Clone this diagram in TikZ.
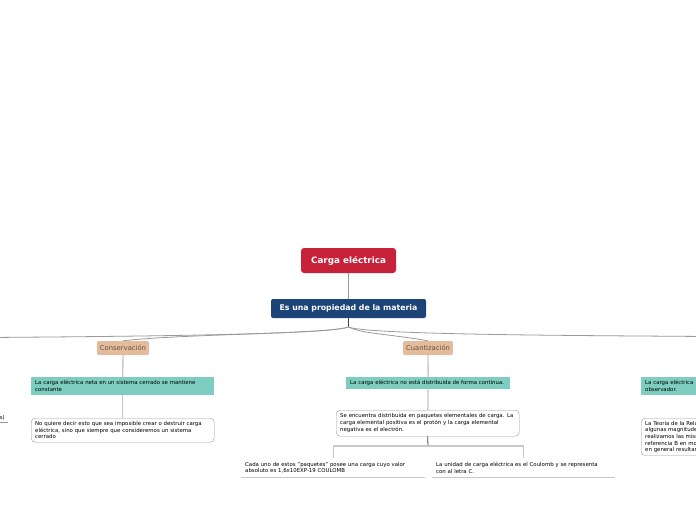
\documentclass[tikz,border=0pt]{standalone}
\usepackage{fontspec}
\setmainfont{DejaVu Sans}
\usepackage{xcolor}
\usepackage{tikz}

\definecolor{rootred}{HTML}{C8213A}
\definecolor{mainblue}{HTML}{1D4477}
\definecolor{topictan}{HTML}{E2BC9C}
\definecolor{topictext}{HTML}{6B4E3A}
\definecolor{factteal}{HTML}{7DCDC0}
\definecolor{linegray}{HTML}{9A9A9A}
\definecolor{stemgray}{HTML}{C8C8C8}

\begin{document}
\begin{tikzpicture}[x=1pt,y=-1pt,
  tiny/.style={font=\fontsize{5.4}{6.7}\selectfont},
  rootbox/.style={fill=rootred,rounded corners=3pt,text=white,
    font=\bfseries\fontsize{8.8}{10}\selectfont,minimum width=95pt,minimum height=25pt},
  mainbox/.style={fill=mainblue,rounded corners=2pt,text=white,
    font=\bfseries\fontsize{7.8}{9}\selectfont,minimum width=155pt,minimum height=19pt},
  topicbox/.style={fill=topictan,rounded corners=1.5pt,text=topictext,
    font=\fontsize{6.8}{8}\selectfont,minimum height=14pt,inner xsep=3pt},
  factbox/.style={tiny,fill=factteal,anchor=north west,align=left,inner xsep=4pt,inner ysep=2pt},
  notebox/.style={tiny,draw=linegray,fill=white,rounded corners=4pt,anchor=north west,
    align=left,inner xsep=4pt,inner ysep=2.5pt},
  leafbox/.style={tiny,anchor=north west,align=left,inner xsep=4pt,inner ysep=2pt},
  conn/.style={linegray,line width=0.8pt},
  trunk/.style={black!75,line width=0.8pt},
  stem/.style={stemgray,line width=1.3pt}]
  \useasboundingbox (0,0) rectangle (696,520);
  \clip (0,0) rectangle (696,520);

  % --- centre
  \node[rootbox] (root) at (348.5,260.5) {Carga eléctrica};
  \node[mainbox] (prop) at (348.5,308.5) {Es una propiedad de la materia};
  \coordinate (hub) at (348.5,327);
  \coordinate (leftend) at (-10,337.5);
  \coordinate (rightend) at (706,336.5);
  \draw[conn] (root) -- (prop);
  \draw[trunk] (prop) -- (hub);

  % --- left: conservation
  \node[topicbox] (cons) at (123,348) {Conservación};
  \node[factbox,text width=175pt,minimum height=18pt] (consfact) at (31,377)
    {La carga eléctrica neta en un sistema cerrado se mantiene\\constante};
  \node[notebox,text width=175pt,minimum height=24pt] (consnote) at (31,418)
    {No quiere decir esto que sea imposible crear o destruir carga\\eléctrica, sino que siempre que consideremos un sistema\\cerrado};
  \node[tiny,anchor=south east,inner xsep=3pt,inner ysep=2pt] (farleft) at (8,422) {s)};
  \coordinate (farleftend) at (-170,422);

  % --- middle: quantization
  \node[topicbox] (cuan) at (428,348) {Cuantización};
  \node[factbox,text width=156pt,minimum height=12pt] (cuanfact) at (346,377)
    {La carga eléctrica no está distribuida de forma continua.};
  \node[notebox,text width=175pt,minimum height=26pt] (cuannote) at (336,410)
    {Se encuentra distribuida en paquetes elementales de carga. La\\carga elemental positiva es el protón y la carga elemental\\negativa es el electrón.};
  \coordinate (split) at (428,446);
  \node[leafbox,text width=176pt,minimum height=19pt] (paquete) at (241,458)
    {Cada uno de estos "paquetes" posee una carga cuyo valor\\absoluto es 1,6x10EXP-19 COULOMB};
  \node[leafbox,text width=175pt,minimum height=19pt] (unidad) at (432,458)
    {La unidad de carga eléctrica es el Coulomb y se representa\\con al letra C.};

  % --- right: invariance (cut by the frame)
  \node[factbox,text width=175pt,minimum height=18pt] (invfact) at (641,377)
    {La carga eléctrica\\observador.};
  \node[notebox,text width=175pt,minimum height=37pt] (invnote) at (641,418)
    {La Teoría de la Relatividad\\algunas magnitudes\\realizamos las mismas\\referencia B en movimiento\\en general resultan};

  % --- connectors
  \draw[conn] (hub) .. controls +(-20,8) and +(120,-1) .. (leftend);
  \draw[conn] (hub) .. controls +(-20,7) and +(60,-7) .. (cons.north);
  \draw[conn] (hub) .. controls +(15,7) and +(-40,-7) .. (cuan.north);
  \draw[conn] (hub) .. controls +(20,8) and +(-120,-1) .. (rightend);
  \draw[stem] (cons) -- (consfact);
  \draw[stem] (consfact) -- (consnote);
  \draw[stem] (cuan) -- (cuanfact);
  \draw[stem] (cuanfact) -- (cuannote);
  \draw[stem] (invfact) -- (invnote);
  \draw[trunk] (cuannote.south) -- (split);
  \draw[stem] (split) -| (paquete.north);
  \draw[stem] (split) -| (unidad.north);
  \draw[stem] (paquete.south west) -- (paquete.south east);
  \draw[stem] (unidad.south west) -- (unidad.south east);
  \draw[conn] (farleftend) -- (farleft.south east);
\end{tikzpicture}
\end{document}
